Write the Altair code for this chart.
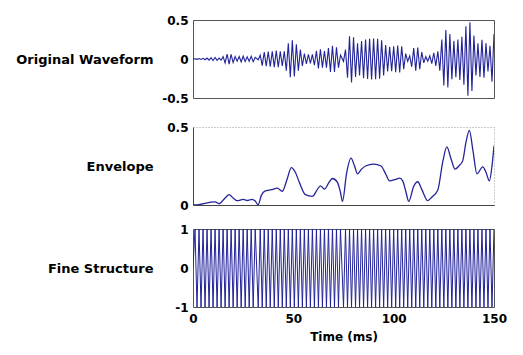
import altair as alt
import pandas as pd

# ---- sample times of the waveform extremes (ms), three segments split by phase jumps
t_seg1 = [0, 1, 2, 3, 4, 5, 6, 7, 8, 9, 10, 11, 12, 13, 14, 15, 16, 17, 18, 19,
          20, 21, 22, 23, 24, 25, 26, 27, 28, 29, 30, 31]
t_seg2 = [32.5, 33.5, 34.5, 35.5, 36.5, 37.5, 38.5, 39.5, 40.5, 41.5, 42.5, 43.5,
          44.5, 45.5, 46.5, 47.5, 48.5, 49.5, 50.5, 51.5, 52.5, 53.5, 54.5, 55.5,
          56.5, 57.5, 58.5, 59.5, 60.5, 61.5, 62.5, 63.5, 64.5, 65.5, 66.5, 67.5,
          68.5, 69.5, 70.5, 71.5, 72.5, 73.5]
t_seg3 = [75, 76, 77, 78, 79, 80, 81, 82, 83, 84, 85, 86, 87, 88, 89, 90, 91, 92,
          93, 94, 95, 96, 97, 98, 99, 100, 101, 102, 103, 104, 105, 106, 107, 108,
          109, 110, 111, 112, 113, 114, 115, 116, 117, 118, 119, 120, 121, 122, 123,
          124, 125, 126, 127, 128, 129, 130, 131, 132, 133, 134, 135, 136, 137, 138,
          139, 140, 141, 142, 143, 144, 145, 146, 147, 148, 149, 150]

# ---- fine structure extremes (+1 / -1)
fs_seg1 = [0, 1, -1, 1, -1, 1, -1, 1, -1, 1, -1, 1, -1, 1, -1, 1, -1, 1, -1, 1, -1,
           1, -1, 1, -1, 1, -1, 1, -1, 1, -1, 1]
fs_seg2 = [-1, 1, -1, 1, -1, 1, -1, 1, -1, 1, -1, 1, -1, 1, -1, 1, -1, 1, -1, 1, -1,
           1, -1, 1, -1, 1, -1, 1, -1, 1, -1, 1, -1, 1, -1, 1, -1, 1, -1, 1, -1, 1]
fs_seg3 = [-1, 1, -1, 1, -1, 1, -1, 1, -1, 1, -1, 1, -1, 1, -1, 1, -1, 1, -1, 1,
           -1, 1, -1, 1, -1, 1, -1, 1, -1, 1, -1, 1, -1, 1, -1, 1, -1, 1, -1, 1,
           -1, 1, -1, 1, -1, 1, -1, 1, -1, 1, -1, 1, -1, 1, -1, 1, -1, 1, -1, 1,
           -1, 1, -1, 1, -1, 1, -1, 1, -1, 1, -1, 1, -1, 1, -1, 1]

# ---- amplitude of the original waveform at each extreme
amp_seg1 = [0.0, 0.003, 0.004, 0.005, 0.006, 0.008, 0.01, 0.012, 0.015, 0.018,
            0.02, 0.02, 0.017, 0.012, 0.015, 0.03, 0.05, 0.062, 0.066, 0.06,
            0.045, 0.032, 0.028, 0.032, 0.036, 0.036, 0.032, 0.028, 0.03, 0.035,
            0.034, 0.02]
amp_seg2 = [0.01, 0.05, 0.085, 0.09, 0.092, 0.095, 0.098, 0.1, 0.104, 0.108,
            0.106, 0.098, 0.09, 0.1, 0.15, 0.2, 0.235, 0.24, 0.225, 0.19,
            0.15, 0.12, 0.09, 0.07, 0.062, 0.058, 0.055, 0.06, 0.08, 0.105,
            0.12, 0.123, 0.11, 0.102, 0.11, 0.14, 0.165, 0.17, 0.165, 0.15,
            0.11, 0.05]
amp_seg3 = [0.03, 0.12, 0.24, 0.29, 0.30, 0.28, 0.23, 0.2, 0.21, 0.23,
            0.245, 0.25, 0.255, 0.26, 0.262, 0.262, 0.26, 0.258, 0.252, 0.24,
            0.21, 0.18, 0.16, 0.155, 0.158, 0.162, 0.168, 0.172, 0.172, 0.162,
            0.13, 0.07, 0.03, 0.04, 0.1, 0.14, 0.15, 0.148, 0.13, 0.09,
            0.05, 0.03, 0.028, 0.04, 0.06, 0.08, 0.09, 0.1, 0.15, 0.25,
            0.34, 0.37, 0.365, 0.32, 0.26, 0.232, 0.235, 0.25, 0.27, 0.285,
            0.33, 0.42, 0.47, 0.47, 0.41, 0.3, 0.21, 0.2, 0.23, 0.245,
            0.24, 0.2, 0.16, 0.17, 0.29, 0.32]

# ---- envelope (key points)
env_t = [0, 3, 6, 9, 11, 13, 16, 18, 20, 22, 25, 27, 29.5, 31, 32.5, 34, 36, 39,
         42, 44.5, 47, 49, 51, 53, 56, 59.5, 62, 63.5, 65.5, 68, 69.5, 72, 73.5,
         74.5, 76.5, 78.7, 80.5, 82, 84, 86, 90, 93.7, 96, 98, 101, 103, 104.5,
         106, 107.5, 110, 112, 114, 117, 119, 122, 124.5, 126.5, 128.5, 130.6,
         132.5, 134.4, 136, 137.7, 139.5, 141.5, 144.4, 146, 147.7, 149, 150]
env_v = [0.0, 0.003, 0.01, 0.018, 0.02, 0.008, 0.045, 0.066, 0.045, 0.028, 0.036,
         0.029, 0.036, 0.025, 0.002, 0.06, 0.09, 0.098, 0.108, 0.088, 0.17, 0.24,
         0.21, 0.145, 0.066, 0.055, 0.1, 0.123, 0.102, 0.15, 0.17, 0.145, 0.08,
         0.023, 0.2, 0.3, 0.25, 0.2, 0.23, 0.25, 0.262, 0.25, 0.2, 0.155, 0.165,
         0.172, 0.155, 0.09, 0.023, 0.12, 0.149, 0.1, 0.028, 0.05, 0.096, 0.28,
         0.372, 0.3, 0.23, 0.25, 0.283, 0.4, 0.479, 0.35, 0.2, 0.245, 0.21, 0.155,
         0.25, 0.38]

x_ticks = [0, 50, 100, 150]

times = t_seg1 + t_seg2 + t_seg3
fs = fs_seg1 + fs_seg2 + fs_seg3
amp = amp_seg1 + amp_seg2 + amp_seg3
wave = [a * s for a, s in zip(amp, fs)]

df_w = pd.DataFrame({"t": times, "wave": wave, "fs": fs})
df_e = pd.DataFrame({"t": env_t, "env": env_v})

FONT = "DejaVu Sans"
LINE = "#23239a"
W, H = 301, 78

xs = alt.Scale(domain=[0, 150], nice=False, zero=False)

common = dict(labelFont=FONT, labelFontSize=12, labelFontWeight="bold",
              labelColor="#000", titleFont=FONT, titleFontWeight="bold",
              titleColor="#000", grid=False)


def y_axis(title, vals, domain=False):
    return alt.Axis(title=title, values=vals, labelExpr="toString(datum.value)",
                    titleAngle=0, titleAlign="right", titleBaseline="middle",
                    titleX=-40, titleY=H / 2, titleFontSize=13, ticks=False,
                    domain=domain, domainColor="#444", labelPadding=5,
                    labelOverlap=False, **common)


top = alt.Chart(df_w).mark_line(color=LINE, strokeWidth=1.1, clip=True).encode(
    x=alt.X("t:Q", scale=xs,
            axis=alt.Axis(title=None, labels=False, domain=False, ticks=True,
                          tickSize=11, tickOpacity=0, grid=False)),
    y=alt.Y("wave:Q", scale=alt.Scale(domain=[-0.5, 0.5], nice=False),
            axis=y_axis("Original Waveform", [-0.5, 0, 0.5])),
).properties(width=W, height=H, view=alt.ViewBackground(stroke="#555"))

env = alt.Chart(df_e).mark_line(color=LINE, strokeWidth=1.3,
                                interpolate="monotone", clip=True).encode(
    x=alt.X("t:Q", scale=xs,
            axis=alt.Axis(title=None, labels=False, domain=True, domainColor="#444",
                          ticks=False, grid=False)),
    y=alt.Y("env:Q", scale=alt.Scale(domain=[0, 0.5], nice=False),
            axis=y_axis("Envelope", [0, 0.5], domain=True)),
).properties(width=W, height=H,
             view=alt.ViewBackground(stroke="#999", strokeDash=[1, 2]))

fine = alt.Chart(df_w).mark_line(color=LINE, strokeWidth=1, clip=True).encode(
    x=alt.X("t:Q", scale=xs,
            axis=alt.Axis(title="Time (ms)", values=x_ticks, domain=False,
                          ticks=False, labelFlush=False, labelOverlap=False,
                          labelPadding=6, titleFontSize=12, titlePadding=7,
                          **common)),
    y=alt.Y("fs:Q", scale=alt.Scale(domain=[-1, 1], nice=False),
            axis=y_axis("Fine Structure", [-1, 0, 1])),
).properties(width=W, height=H, view=alt.ViewBackground(stroke="#555"))

chart = alt.vconcat(top, env, fine, spacing=10).configure(
    background="white"
).properties(padding={"left": 7, "top": 5, "right": 5, "bottom": 5})

chart.save("out.html", embed_options={"renderer": "svg", "actions": False})
